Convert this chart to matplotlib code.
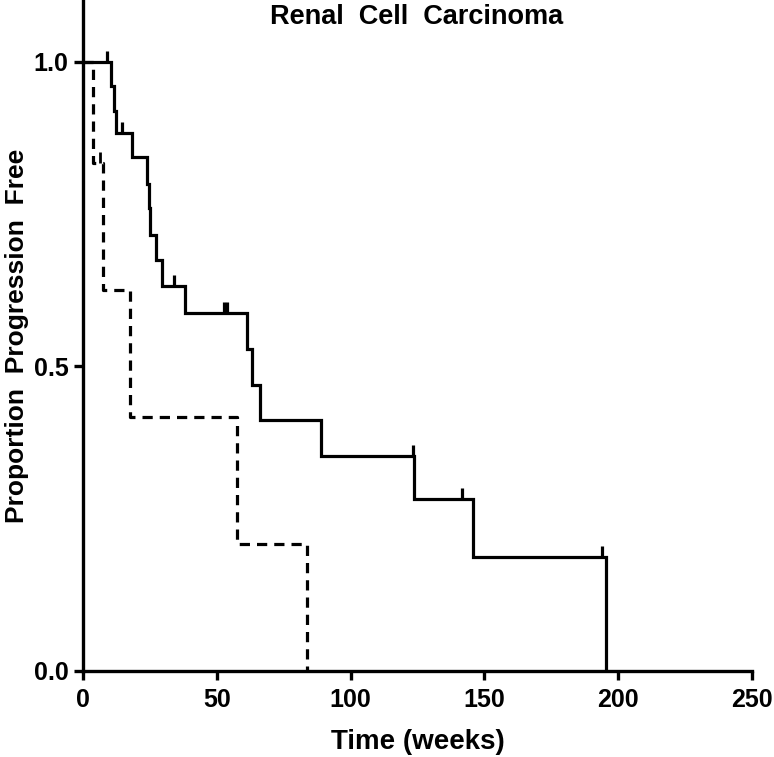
import matplotlib.pyplot as plt
from matplotlib.path import Path

plt.rcParams['font.family'] = ['Liberation Sans', 'DejaVu Sans']
plt.rcParams['font.weight'] = 'bold'

# solid curve: event times (weeks) and proportion after each step
solid_t = [0, 10.5, 11.5, 12.3, 18.3, 23.9, 24.5, 25.1, 27.2, 29.5, 38.1, 61.3, 63.2, 66.1, 88.9, 123.7, 145.7, 195.4]
solid_s = [1.0, 0.96, 0.92, 0.884, 0.844, 0.80, 0.76, 0.716, 0.675, 0.632, 0.588, 0.529, 0.47, 0.412, 0.353, 0.282, 0.187, 0.0]
solid_cens_t = [9.0, 14.6, 34.0, 52.7, 53.9, 123.2, 141.6, 194.0]
solid_cens_s = [1.0, 0.884, 0.632, 0.588, 0.588, 0.353, 0.282, 0.187]

# dashed curve
dash_t = [0, 3.8, 7.5, 17.6, 57.5, 83.7]
dash_s = [1.0, 0.834, 0.625, 0.417, 0.208, 0.0]
dash_cens_t = [6.3]
dash_cens_s = [0.834]

xticks = [0, 50, 100, 150, 200, 250]
yticks = [0.0, 0.5, 1.0]

fig = plt.figure(figsize=(7.74, 7.57), dpi=100)
ax = fig.add_axes([83 / 774, 1 - 671 / 757, 669 / 774, 670 / 757])

lw = 2.3
ax.step(solid_t, solid_s, where='post', color='black', lw=lw, solid_joinstyle='miter')
ax.step(dash_t, dash_s, where='post', color='black', lw=lw, linestyle=(0, (3.2, 2.2)))

# censor ticks pointing up from the line
up_tick = Path([(0, 0), (0, 1)])
ax.plot(solid_cens_t, solid_cens_s, linestyle='none', marker=up_tick, markersize=16,
        markeredgewidth=2.3, color='black')
ax.plot(dash_cens_t, dash_cens_s, linestyle='none', marker=up_tick, markersize=16,
        markeredgewidth=2.0, color='black')

ax.set_xlim(0, 250)
ax.set_ylim(0, 1.1)
ax.set_xticks(xticks)
ax.set_yticks(yticks)
ax.set_yticklabels(['0.0', '0.5', '1.0'])

for side in ['top', 'right']:
    ax.spines[side].set_visible(False)
for side in ['left', 'bottom']:
    ax.spines[side].set_linewidth(2.4)
ax.tick_params(axis='both', width=2.4, length=6.5, labelsize=18)
ax.tick_params(axis='x', pad=6)
ax.tick_params(axis='y', pad=4)

ax.set_xlabel('Time (weeks)', fontsize=20, fontweight='bold', labelpad=12)
ax.set_ylabel('Proportion  Progression  Free', fontsize=19, fontweight='bold')
ax.yaxis.set_label_coords(-54 / 669, 0.5)
fig.text(417 / 774, 1 - 17 / 757, 'Renal  Cell  Carcinoma', fontsize=19.5, fontweight='bold',
         ha='center', va='center')

fig.savefig('out.png', dpi=100)
